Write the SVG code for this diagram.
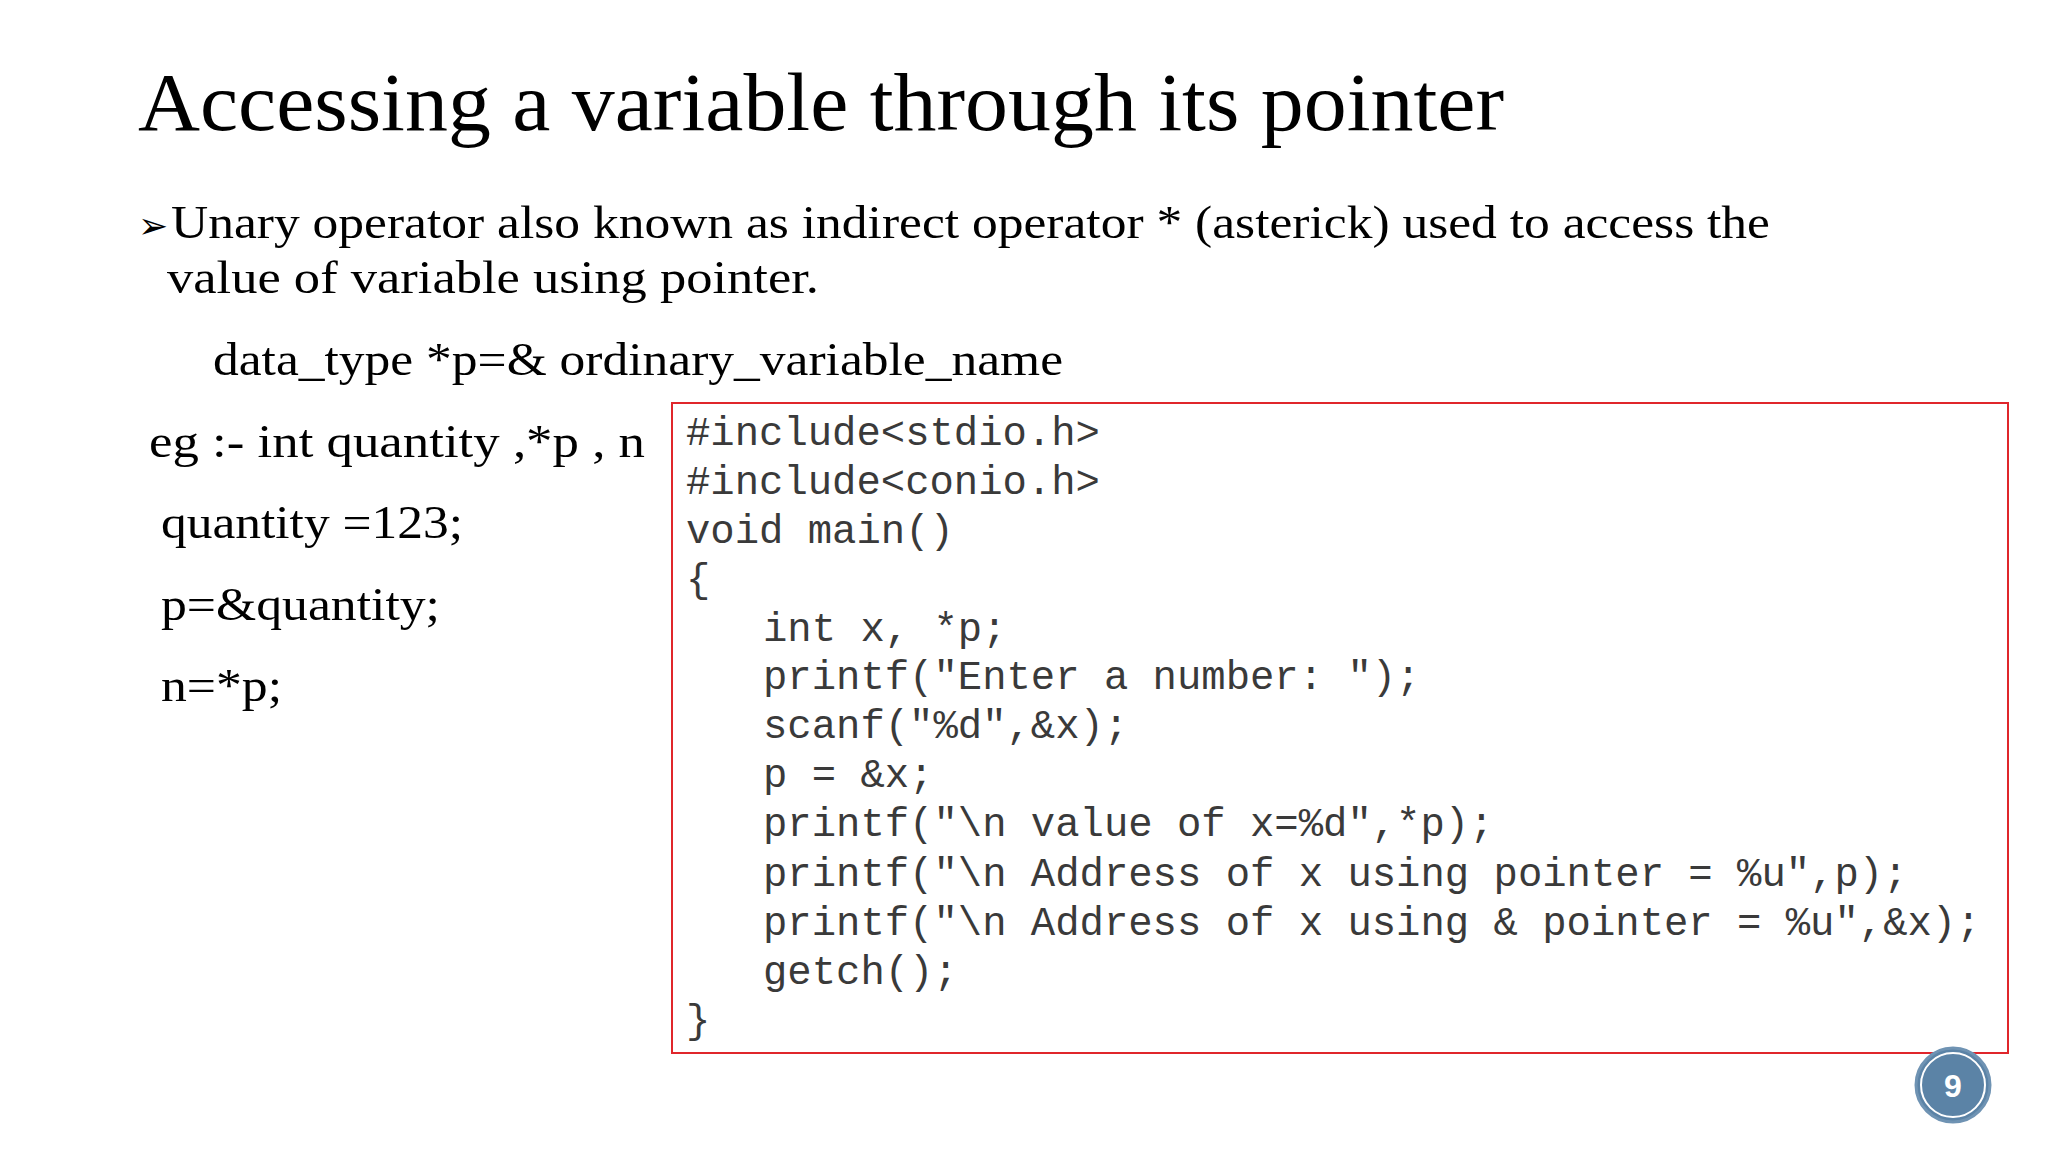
<svg xmlns="http://www.w3.org/2000/svg" width="2048" height="1152" viewBox="0 0 2048 1152">
<style>
.s{font-family:"Liberation Serif",serif;fill:#000}
.c{font-family:"Liberation Mono",monospace;font-size:40.6px;fill:#3a3a3a;white-space:pre}
</style>
<rect width="2048" height="1152" fill="#fff"/>
<g id="title"><text class="s" x="138" y="130" font-size="82" textLength="1366" lengthAdjust="spacingAndGlyphs">Accessing a variable through its pointer</text></g>
<g id="body">
<text class="s" x="138" y="238" font-size="36">➢</text>
<text class="s" x="171" y="238" font-size="47" textLength="1599" lengthAdjust="spacingAndGlyphs">Unary operator also known as indirect operator * (asterick) used to access the</text>
<text class="s" x="167" y="293" font-size="47" textLength="652" lengthAdjust="spacingAndGlyphs">value of variable  using pointer.</text>
<text class="s" x="213" y="375" font-size="47" textLength="850" lengthAdjust="spacingAndGlyphs">data_type *p=&amp; ordinary_variable_name</text>
<text class="s" x="149" y="457" font-size="47" textLength="496" lengthAdjust="spacingAndGlyphs">eg :- int  quantity ,*p , n</text>
<text class="s" x="161" y="538" font-size="47" textLength="302" lengthAdjust="spacingAndGlyphs">quantity =123;</text>
<text class="s" x="161" y="620" font-size="47" textLength="279" lengthAdjust="spacingAndGlyphs">p=&amp;quantity;</text>
<text class="s" x="161" y="701" font-size="47" textLength="121" lengthAdjust="spacingAndGlyphs">n=*p;</text>
</g>
<g id="code">
<rect x="672" y="403" width="1336" height="650" fill="none" stroke="#e0262b" stroke-width="2"/>
<text class="c" x="686" y="445">#include&lt;stdio.h&gt;</text>
<text class="c" x="686" y="494">#include&lt;conio.h&gt;</text>
<text class="c" x="686" y="543">void main()</text>
<text class="c" x="686" y="592">{</text>
<text class="c" x="763" y="641">int x, *p;</text>
<text class="c" x="763" y="689">printf("Enter a number: ");</text>
<text class="c" x="763" y="738">scanf("%d",&amp;x);</text>
<text class="c" x="763" y="787">p = &amp;x;</text>
<text class="c" x="763" y="836">printf("\n value of x=%d",*p);</text>
<text class="c" x="763" y="886">printf("\n Address of x using pointer = %u",p);</text>
<text class="c" x="763" y="935">printf("\n Address of x using &amp; pointer = %u",&amp;x);</text>
<text class="c" x="763" y="984">getch();</text>
<text class="c" x="686" y="1033">}</text>
</g>
<g id="page">
<circle cx="1953" cy="1085" r="37" fill="#5b83a6" stroke="#6f93b3" stroke-width="3"/>
<circle cx="1953" cy="1085" r="32" fill="none" stroke="#fff" stroke-width="2"/>
<text x="1953" y="1097" text-anchor="middle" font-family="Liberation Sans,sans-serif" font-weight="bold" font-size="32" fill="#fff">9</text>
</g>
</svg>
